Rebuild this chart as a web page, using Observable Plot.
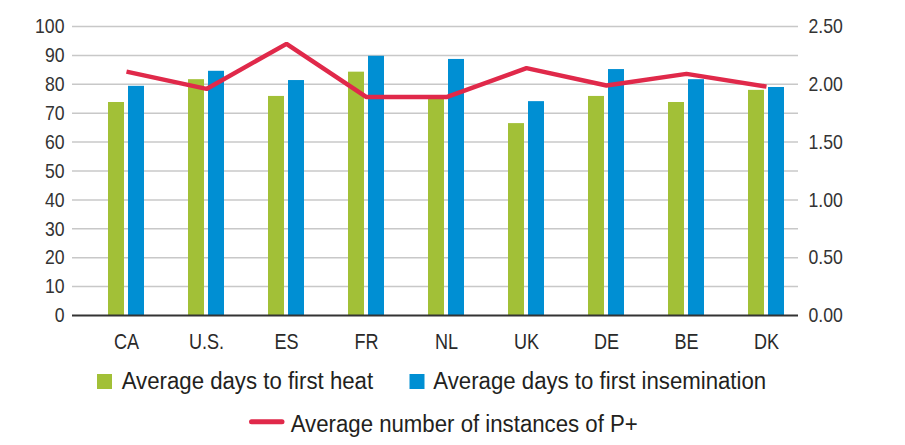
<!DOCTYPE html>
<html>
<head>
<meta charset="utf-8">
<script src="https://cdn.jsdelivr.net/npm/d3@7"></script>
<script src="https://cdn.jsdelivr.net/npm/@observablehq/plot@0.6"></script>
<style>
  body { margin: 0; background: #fff; font-family: "Liberation Sans", Arial, sans-serif; }
  svg { display: block; }
</style>
</head>
<body>
<div id="chart"></div>
<div id="legend"></div>
<script>
const countries = ["CA", "U.S.", "ES", "FR", "NL", "UK", "DE", "BE", "DK"];
const daysToHeat = [73.7, 81.6, 75.8, 84.2, 75.8, 66.4, 75.8, 73.7, 77.9];
const daysToInsem = [79.3, 84.5, 81.3, 89.7, 88.6, 74.0, 85.1, 81.6, 78.9];
const instancesP = [2.11, 1.96, 2.35, 1.89, 1.89, 2.14, 1.99, 2.09, 1.98];
const leftTicks = [0, 10, 20, 30, 40, 50, 60, 70, 80, 90, 100];
const rightTicks = [0, 0.5, 1, 1.5, 2, 2.5];
const rightMax = 2.5;
const seriesNames = ["Average days to first heat", "Average days to first insemination", "Average number of instances of P+"];
const colors = ["#A2C037", "#008FD3", "#E0294A"];

const rows = countries.map((c, i) => ({c, heat: daysToHeat[i], insem: daysToInsem[i], p: instancesP[i]}));
const scaleP = 100 / rightMax;
const font = '"Liberation Sans", Arial, sans-serif';

const chart = Plot.plot({
  width: 905,
  height: 355,
  marginLeft: 72,
  marginRight: 107,
  marginTop: 26,
  marginBottom: 40,
  style: {fontFamily: font, fontSize: "21px", color: "#333", background: "#fff"},
  x: {domain: countries, range: [86, 806], padding: 0, label: null},
  y: {domain: [0, 100], label: null},
  marks: [
    Plot.ruleY(leftTicks.filter(d => d > 0), {stroke: "#c8c8c8", strokeWidth: 1.5}),
    Plot.barY(rows, {x: "c", y: "heat", fill: colors[0], dx: -10, insetLeft: 32, insetRight: 32}),
    Plot.barY(rows, {x: "c", y: "insem", fill: colors[1], dx: 10, insetLeft: 32, insetRight: 32}),
    Plot.ruleY([0], {stroke: "#333", strokeWidth: 2}),
    Plot.line(rows, {x: "c", y: d => d.p * scaleP, stroke: colors[2], strokeWidth: 4.5, strokeLinejoin: "miter", strokeLinecap: "butt"}),
    Plot.axisY(leftTicks, {anchor: "left", tickSize: 0, tickPadding: 8, fontSize: 21, fill: "#333", className: "ylab"}),
    Plot.axisY(rightTicks.map(d => d * scaleP), {anchor: "right", tickSize: 0, tickPadding: 10, fontSize: 21, fill: "#333", className: "ylab", tickFormat: d => (d / scaleP).toFixed(2)}),
    Plot.axisX({tickSize: 0, tickPadding: 18, fontSize: 22, fill: "#2a2a2a", className: "xlab"})
  ]
});
document.getElementById("chart").appendChild(chart);

function squeeze(sel, k) {
  sel.each(function() {
    const len = this.getComputedTextLength();
    if (len > 0) {
      this.setAttribute("textLength", (len * k).toFixed(2));
      this.setAttribute("lengthAdjust", "spacingAndGlyphs");
    }
  });
}
squeeze(d3.select(chart).selectAll(".ylab text"), 0.84);
squeeze(d3.select(chart).selectAll(".xlab text"), 0.82);

// Legend below the chart
const lg = d3.select("#legend").append("svg").attr("width", 905).attr("height", 90)
  .style("font-family", font).style("font-size", "23.5px");
const off = 355;
lg.append("rect").attr("x", 97).attr("y", 374 - off).attr("width", 15).attr("height", 15).attr("fill", colors[0]);
lg.append("rect").attr("x", 409.5).attr("y", 374 - off).attr("width", 15).attr("height", 15).attr("fill", colors[1]);
lg.append("line").attr("x1", 251.5).attr("x2", 282).attr("y1", 421.7 - off).attr("y2", 421.7 - off)
  .attr("stroke", colors[2]).attr("stroke-width", 5).attr("stroke-linecap", "round");
const lt = lg.selectAll("text.l").data([
  {t: seriesNames[0], x: 121.7, y: 389},
  {t: seriesNames[1], x: 433.3, y: 389},
  {t: seriesNames[2], x: 290.7, y: 431.7}
]).join("text").attr("class", "l")
  .attr("x", d => d.x).attr("y", d => d.y - off).attr("fill", "#231f20").text(d => d.t);
squeeze(lt, 0.945);
</script>
</body>
</html>
